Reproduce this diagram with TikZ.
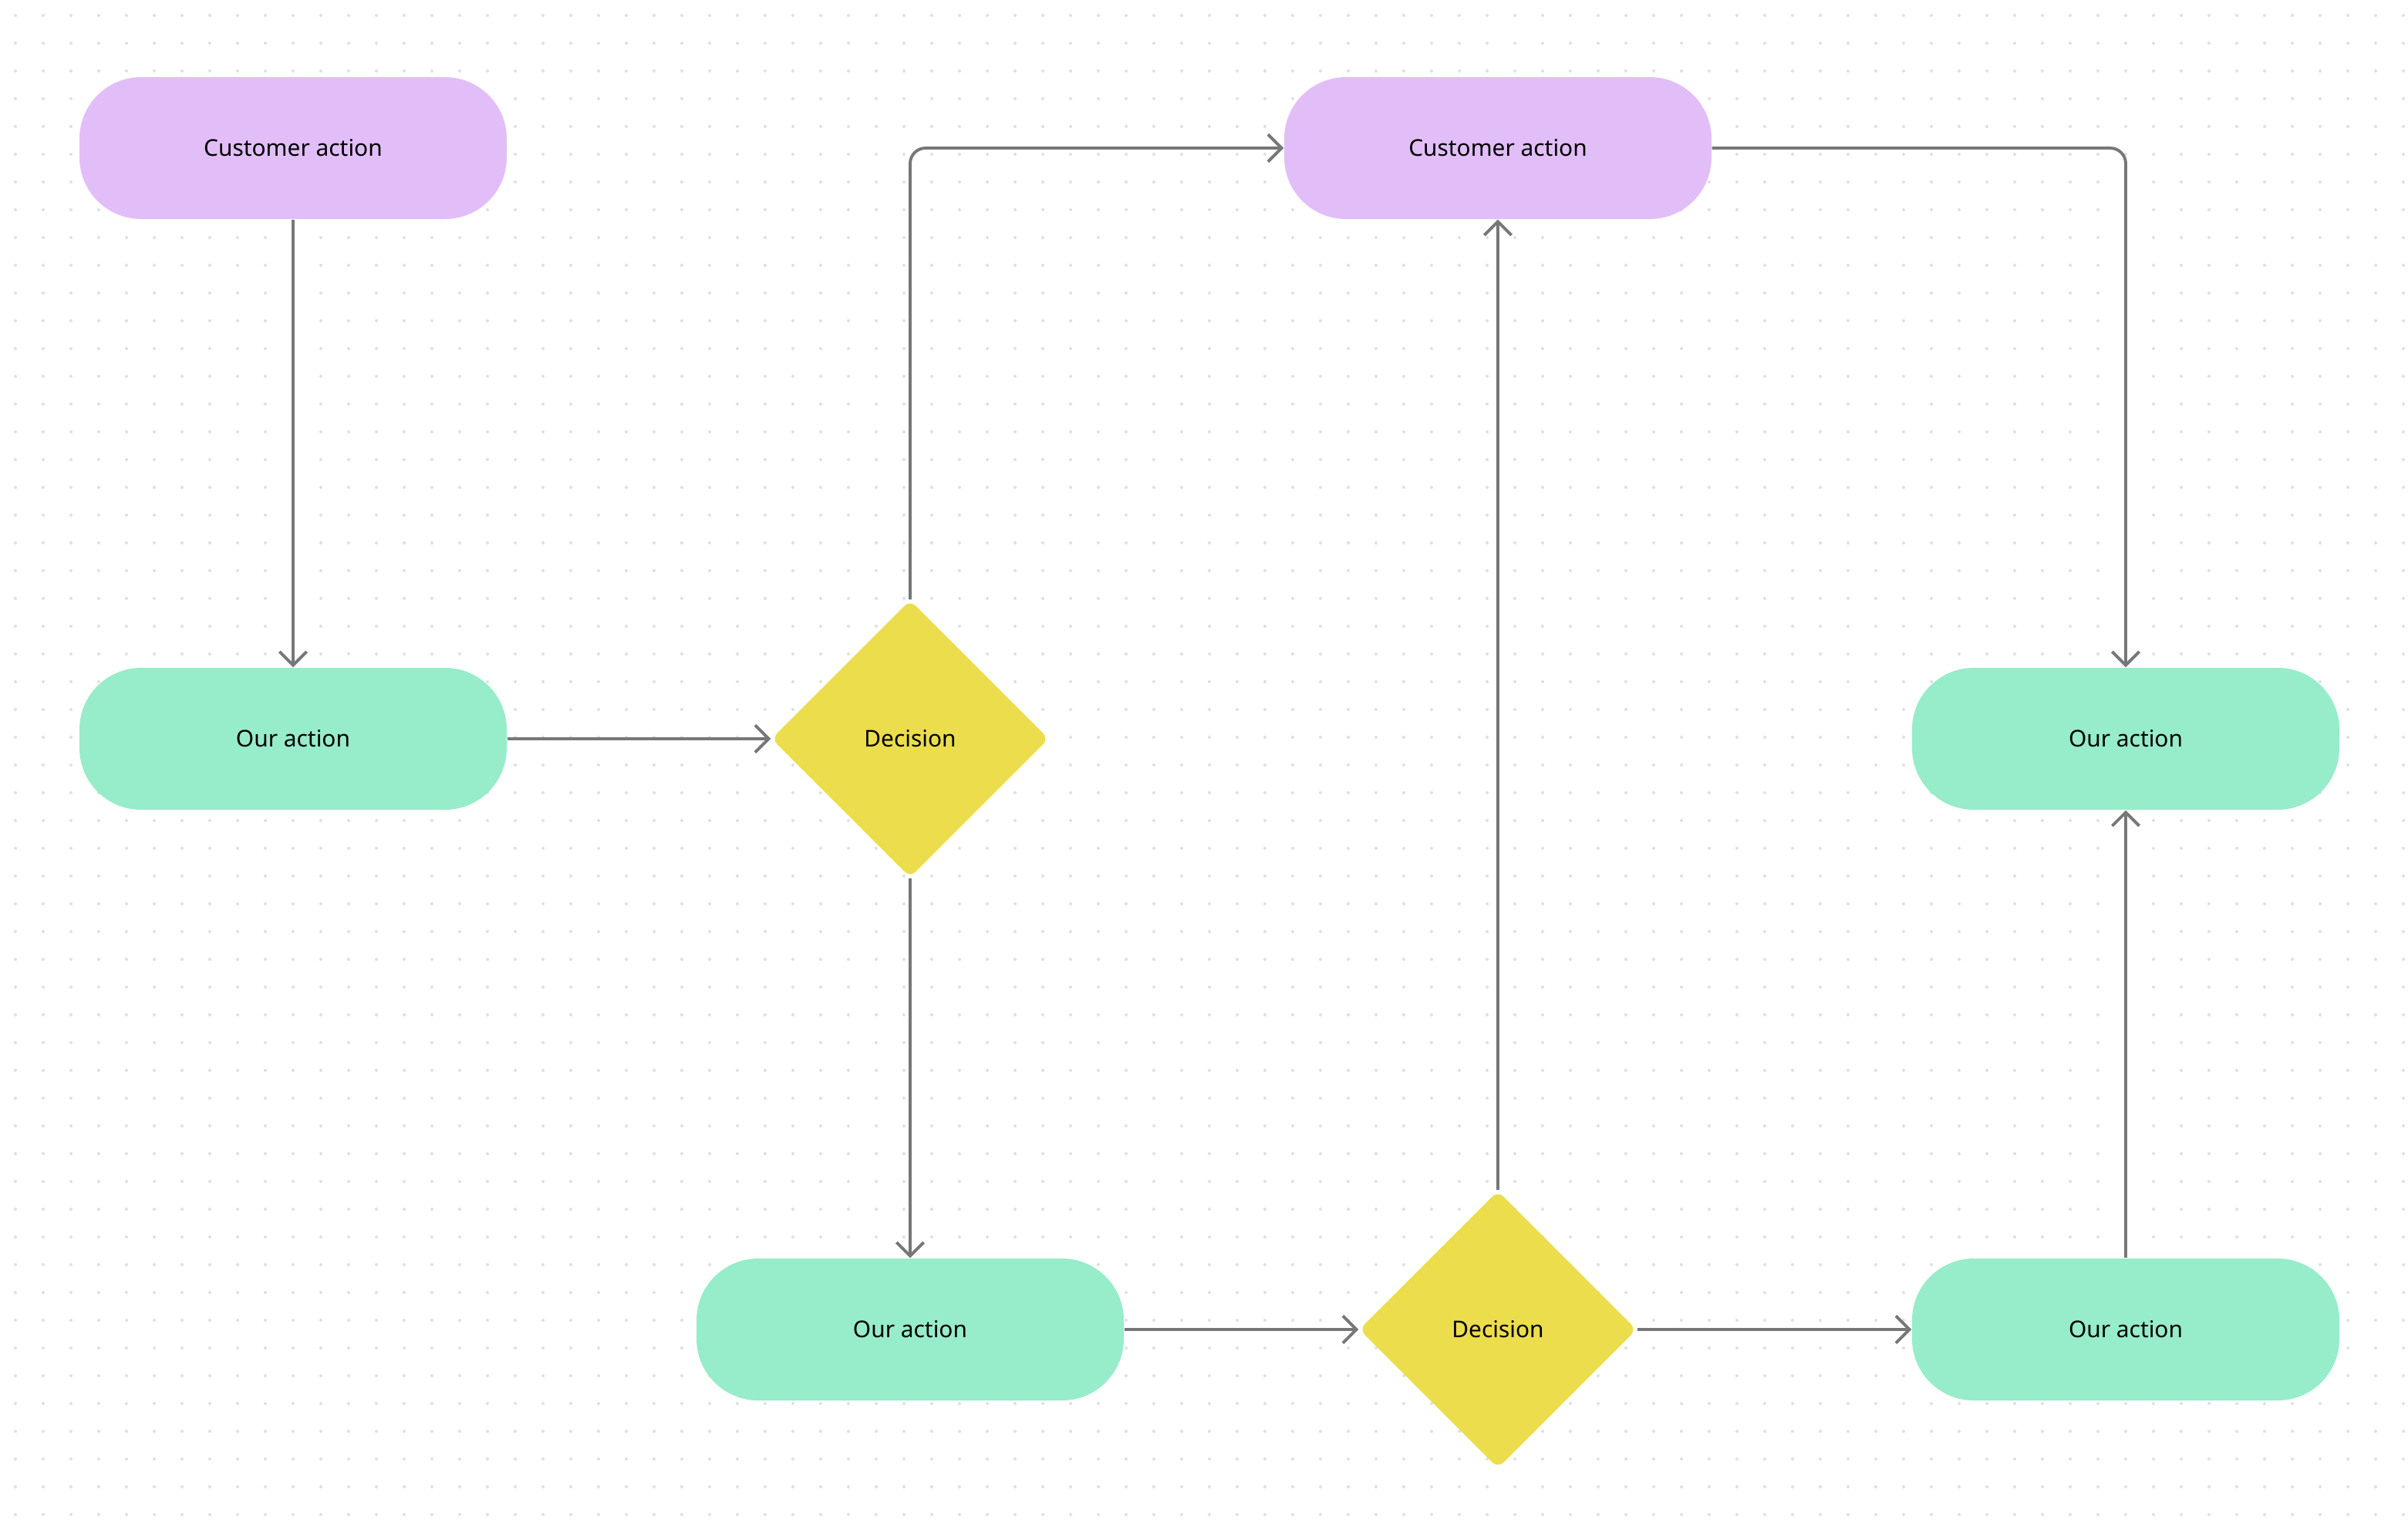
\documentclass[tikz,border=0pt]{standalone}
\usepackage{fontspec}
\setmainfont{Noto Sans}
\usetikzlibrary{shapes.geometric, arrows.meta}
\definecolor{custpurple}{HTML}{E2BEF8}
\definecolor{ourgreen}{HTML}{97ECCA}
\definecolor{decyellow}{HTML}{ECDD4D}
\definecolor{linegray}{HTML}{777777}
\tikzset{
    customer/.style={
        rectangle, rounded corners=0.8cm, fill=custpurple,
        minimum width=5.54cm, minimum height=1.84cm,
        font=\fontsize{8.5}{10}\selectfont
    },
    ouraction/.style={
        rectangle, rounded corners=0.8cm, fill=ourgreen,
        minimum width=5.54cm, minimum height=1.84cm,
        font=\fontsize{8.5}{10}\selectfont
    },
    decision/.style={
        diamond, rounded corners=3pt, fill=decyellow,
        minimum width=3.6cm, minimum height=3.6cm, inner sep=0pt,
        font=\fontsize{8.5}{10}\selectfont
    },
    flow/.style={draw=linegray, line width=1.1pt, rounded corners=0.2cm,
        -{Straight Barb[length=5pt, width=10pt]}}
}
\begin{document}
\begin{tikzpicture}

% background and dot grid
\fill[white] (0,0) rectangle (31.22,-19.96);
\useasboundingbox (0,0) rectangle (31.22,-19.96);
\foreach \i in {0,...,86} {
  \foreach \j in {0,...,55} {
    \fill[black!12] (0.2+0.36*\i,-0.2-0.36*\j) circle (0.02);
  }
}

% nodes
\node[customer] (cust1) at (3.8,-1.92) {Customer action};
\node[ouraction] (our1) at (3.8,-9.58) {Our action};
\node[decision] (dec1) at (11.8,-9.58) {Decision};
\node[customer] (cust2) at (19.42,-1.92) {Customer action};
\node[ouraction] (our2) at (11.8,-17.24) {Our action};
\node[decision] (dec2) at (19.42,-17.24) {Decision};
\node[ouraction] (our3) at (27.56,-9.58) {Our action};
\node[ouraction] (our4) at (27.56,-17.24) {Our action};

% connectors
\draw[flow] (cust1) -- (our1);
\draw[flow] (our1) -- (dec1);
\draw[flow] (dec1.north) |- (cust2.west);
\draw[flow] (dec1) -- (our2);
\draw[flow] (our2) -- (dec2);
\draw[flow] (dec2) -- (cust2);
\draw[flow] (dec2) -- (our4);
\draw[flow] (our4) -- (our3);
\draw[flow] (cust2.east) -| (our3.north);

\end{tikzpicture}
\end{document}
